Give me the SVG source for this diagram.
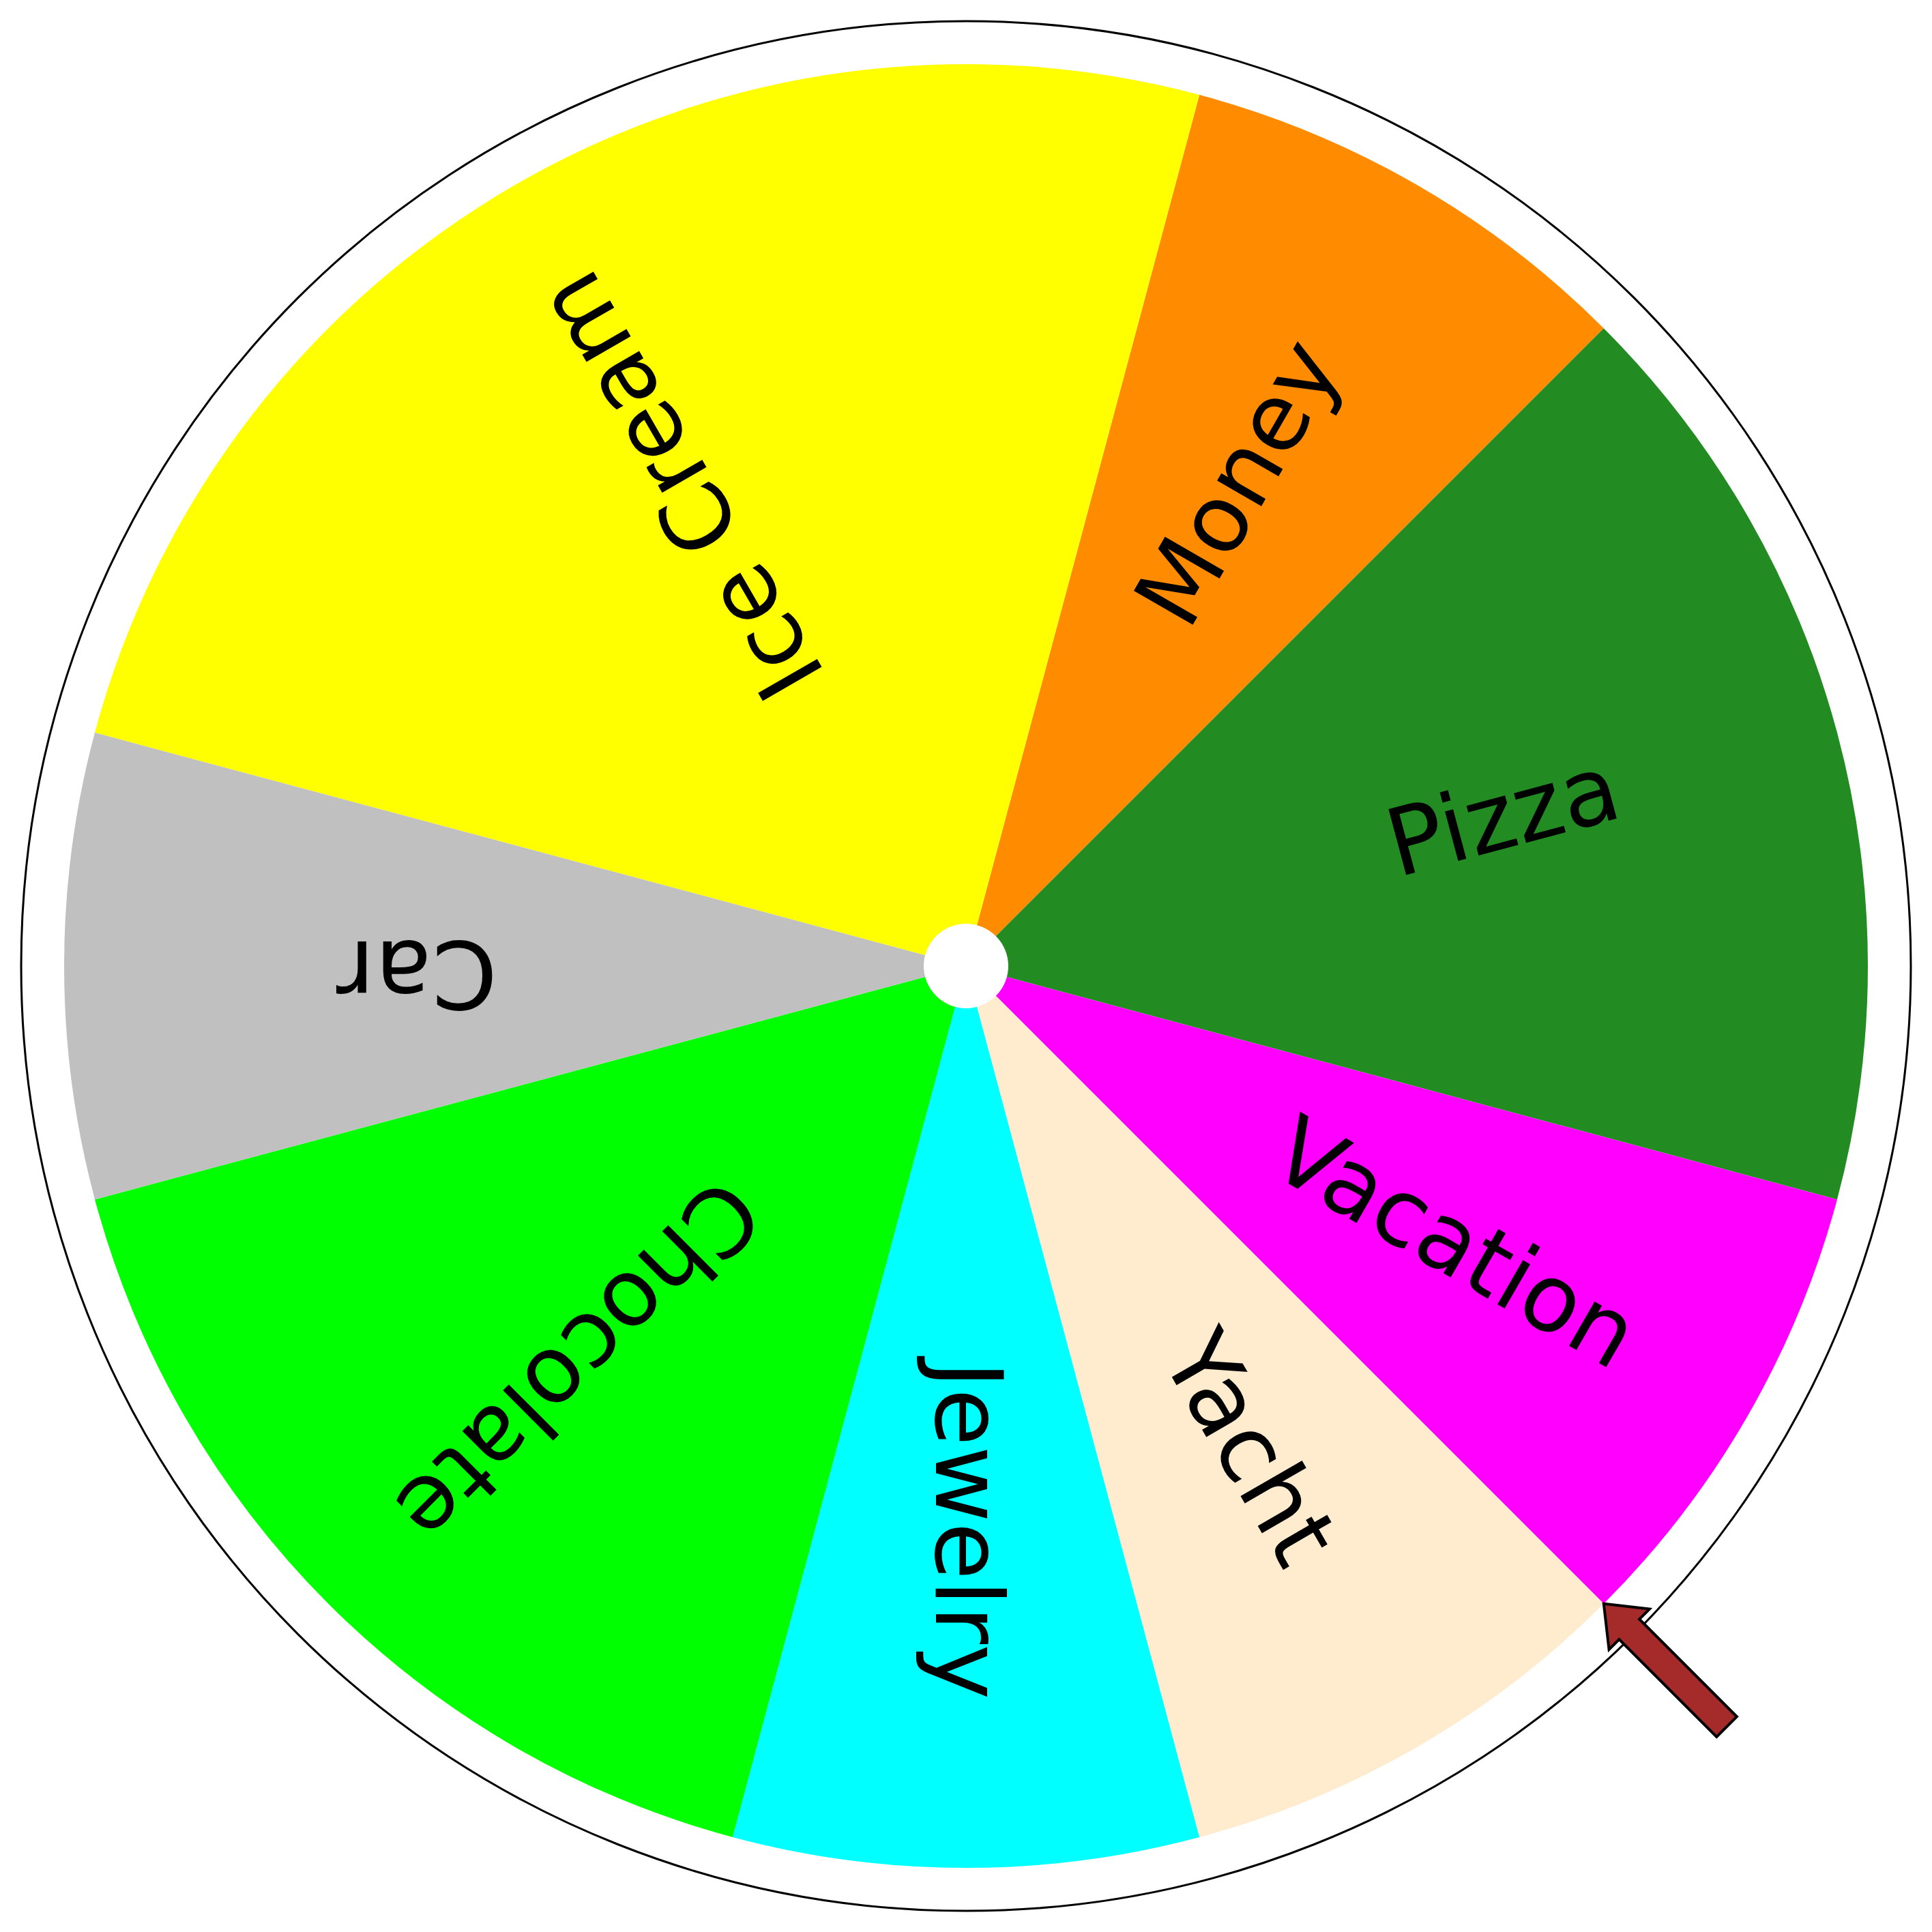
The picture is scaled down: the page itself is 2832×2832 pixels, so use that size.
<svg xmlns="http://www.w3.org/2000/svg" width="2832" height="2832" viewBox="0 0 2832 2832">
<style>
.lbl{font-family:"DejaVu Sans",sans-serif;font-size:137px;fill:#000;text-anchor:middle}
</style>
<rect width="2832" height="2832" fill="#fff"/>
<circle id="rim" cx="1416" cy="1416" r="1385" fill="#fff" stroke="#000" stroke-width="3"/>
<g id="wheel">
<g id="money"><path d="M1416,1416 L1758.16,139.05 A1322,1322 0 0 1 2350.79,481.21 Z" fill="#FF8C00"/><text class="lbl" transform="translate(1416 1416) rotate(-60)" x="813" y="38">Money</text></g>
<g id="pizza"><path d="M1416,1416 L2350.79,481.21 A1322,1322 0 0 1 2692.95,1758.16 Z" fill="#228B22"/><text class="lbl" transform="translate(1416 1416) rotate(-15)" x="817" y="38">Pizza</text></g>
<g id="vacation"><path d="M1416,1416 L2692.95,1758.16 A1322,1322 0 0 1 2350.79,2350.79 Z" fill="#FF00FF"/><text class="lbl" transform="translate(1416 1416) rotate(30)" x="824" y="40">Vacation</text></g>
<g id="yacht"><path d="M1416,1416 L2350.79,2350.79 A1322,1322 0 0 1 1758.16,2692.95 Z" fill="#FFEBCD"/><text class="lbl" transform="translate(1416 1416) rotate(60)" x="820" y="40">Yacht</text></g>
<g id="jewelry"><path d="M1416,1416 L1758.16,2692.95 A1322,1322 0 0 1 1073.84,2692.95 Z" fill="#00FFFF"/><text class="lbl" transform="translate(1416 1416) rotate(90)" x="827" y="44">Jewelry</text></g>
<g id="chocolate"><path d="M1416,1416 L1073.84,2692.95 A1322,1322 0 0 1 139.05,1758.16 Z" fill="#00FF00"/><text class="lbl" transform="translate(1416 1416) rotate(135)" x="812" y="40">Chocolate</text></g>
<g id="car"><path d="M1416,1416 L139.05,1758.16 A1322,1322 0 0 1 139.05,1073.84 Z" fill="#C0C0C0"/><text class="lbl" transform="translate(1416 1416) rotate(180)" x="805" y="36">Car</text></g>
<g id="icecream"><path d="M1416,1416 L139.05,1073.84 A1322,1322 0 0 1 1758.16,139.05 Z" fill="#FFFF00"/><text class="lbl" transform="translate(1416 1416) rotate(240)" x="819" y="36">Ice Cream</text></g>
</g>
<circle id="hub" cx="1416" cy="1416" r="62" fill="#fff"/>
<g id="pointer"><path transform="translate(2350.79 2350.79) rotate(45)" d="M0,0 L53,-42 L53,-21 L255,-21 L255,21 L53,21 L53,42 Z" fill="#A52A2A" stroke="#000" stroke-width="4"/></g>
</svg>
